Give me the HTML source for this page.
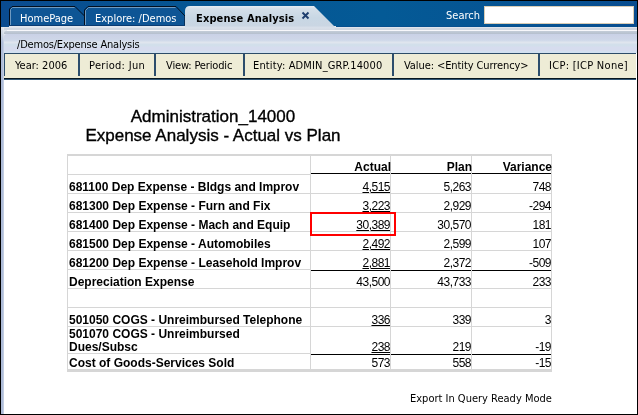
<!DOCTYPE html>
<html><head><meta charset="utf-8">
<style>
*{margin:0;padding:0;box-sizing:border-box}
html,body{width:638px;height:415px;overflow:hidden;background:#fff}
body{position:relative;font-family:"DejaVu Sans Condensed","Liberation Sans",sans-serif}
.a{position:absolute}
.ui{font-family:"DejaVu Sans Condensed","Liberation Sans",sans-serif;font-size:11px;line-height:13px;white-space:nowrap}
#hdr{left:1px;top:1px;width:636px;height:26px;background:linear-gradient(90deg,#0a4b90 0%,#065593 28%,#045a96 60%,#065493 80%,#084c8f 100%)}
#tabs{left:0;top:0}
.tabt{color:#fff}
#bar{left:1px;top:26px;width:636px;height:27px;background:#e2e7ee}
#pov{left:4px;top:53px;width:632px;height:27px;background:#eeecd6;border-top:1px solid #2c4c68;border-bottom:2px solid #08161e}
.sep{position:absolute;top:0;width:2px;height:22px;background:#2c4d6c}
.pt{position:absolute;top:5px;color:#000}
#lstrip{left:1px;top:27px;width:3px;height:387px;background:linear-gradient(90deg,rgba(255,255,255,0) 0,rgba(255,255,255,0) 2px,rgba(255,255,255,.25) 2px),linear-gradient(#e0e5ec 0,#d0d8e4 6px,#aebcd8 16px,#aebcd8 100%)}
.frame{position:absolute;background:#000}
.ttl{font-family:"Liberation Sans",Arial,sans-serif;font-size:17px;line-height:19px;-webkit-text-stroke:0.35px #000;color:#000;white-space:nowrap;text-align:center}
table{border-collapse:collapse;font-family:"Liberation Sans",Arial,sans-serif;font-size:12px;table-layout:fixed}
.lab{left:69px;font:bold 12px/13px "Liberation Sans",Arial,sans-serif;color:#000;white-space:nowrap}
.num{width:78px;text-align:right;letter-spacing:-0.5px;font:12px/13px "Liberation Sans",Arial,sans-serif;color:#000;white-space:nowrap}
.num.u{text-decoration:underline;text-decoration-thickness:1px;text-underline-offset:1px}
.hd{width:79px;text-align:right;font:bold 12px/13px "Liberation Sans",Arial,sans-serif;color:#000;white-space:nowrap}
</style></head><body>
<div class="a" id="hdr"></div>
<div class="a" id="bar"></div>
<div class="a" style="left:1px;top:26px;width:8px;height:1px;background:#0a4a8d"></div>
<div class="a" style="left:336px;top:26px;width:301px;height:1px;background:#07508f"></div>
<div class="a" style="left:1px;top:27px;width:636px;height:1px;background:#dfe4ec"></div>
<div class="a" style="left:1px;top:28px;width:636px;height:2px;background:#d0d7e1"></div>
<div class="a" style="left:7px;top:30px;width:630px;height:1px;background:#f7f7fb"></div>
<div class="a" style="left:4px;top:31px;width:633px;height:3px;background:linear-gradient(#c3ccd8,#b5bfcd);border-top-left-radius:2px"></div>
<div class="a" style="left:4px;top:34px;width:633px;height:17px;background:linear-gradient(#c9d1e6 0px,#cdd4e7 3px,#cdd6e8 5px,#d2dbea 7px,#dfe5ee 8px,#dfe5ee 9px,#d3dfeb 10px,#d2dfeb 12px,#d6dcee 13px,#d6dcee 17px);border-top-left-radius:3px"></div>
<div class="a" style="left:4px;top:51px;width:633px;height:2px;background:#d2e0f0"></div>
<svg class="a" id="tabs" width="638" height="30" viewBox="0 0 638 30">
  <path d="M9.5 26 V9 L12 6.5 H75 L84.5 16 V26" fill="#0e5595" stroke="#020e1e" stroke-width="1"/>
  <path d="M10.5 25 V9.5 L12.5 7.5 H74.5" fill="none" stroke="#6f9ac0" stroke-width="1"/>
  <path d="M84.5 26 V10 L88 6.5 H176 L185 16 V26" fill="#0e5595" stroke="#020e1e" stroke-width="1"/>
  <path d="M85.5 25 V10.5 L88.5 7.5 H175.5" fill="none" stroke="#6f9ac0" stroke-width="1"/>
  <rect x="9" y="25" width="176" height="1" fill="#0a3b72"/>
  <defs><linearGradient id="ag" x1="0" y1="0" x2="0" y2="1"><stop offset="0" stop-color="#e6ecf2"/><stop offset="0.12" stop-color="#d4dfe9"/><stop offset="0.5" stop-color="#c8d7e4"/><stop offset="0.82" stop-color="#cad6e3"/><stop offset="0.9" stop-color="#d8dfe9"/><stop offset="1" stop-color="#d4dae4"/></linearGradient></defs>
  <path d="M185 30 V11 Q185 6 190 6 H314 L335 27 V30 Z" fill="url(#ag)"/>
  <path d="M302.5 12.5 L308.5 18.5 M308.5 12.5 L302.5 18.5" stroke="#1e3e6e" stroke-width="1.9" fill="none"/>
</svg>
<div class="a ui tabt" style="left:20px;top:12px">HomePage</div>
<div class="a ui tabt" style="left:95px;top:12px">Explore: /Demos</div>
<div class="a ui" style="left:196px;top:12px;font-weight:bold;color:#000;letter-spacing:0.12px">Expense Analysis</div>
<div class="a ui tabt" style="left:446px;top:9px">Search</div>
<div class="a" style="left:484px;top:6px;width:150px;height:18px;background:#fff;border:1px solid #d9ccb4"></div>
<div class="a" style="left:7px;top:30px;width:630px;height:1px;background:#f7f7fb"></div>
<div class="a ui" style="left:17px;top:38px;color:#000;letter-spacing:-0.2px">/Demos/Expense Analysis</div>

<div class="a" id="pov">
  <div class="sep" style="left:0;width:1px"></div>
  <div class="pt ui" style="left:11px">Year: 2006</div>
  <div class="sep" style="left:74px"></div>
  <div class="pt ui" style="left:85px;letter-spacing:0.3px">Period: Jun</div>
  <div class="sep" style="left:150px"></div>
  <div class="pt ui" style="left:162px;letter-spacing:-0.15px">View: Periodic</div>
  <div class="sep" style="left:239px"></div>
  <div class="pt ui" style="left:249px;letter-spacing:0.14px">Entity: ADMIN_GRP.14000</div>
  <div class="sep" style="left:388px"></div>
  <div class="pt ui" style="left:400px;letter-spacing:-0.09px">Value: &lt;Entity Currency&gt;</div>
  <div class="sep" style="left:534px"></div>
  <div class="pt ui" style="left:545px;letter-spacing:0.28px">ICP: [ICP None]</div>
</div>
<div class="a" id="lstrip"></div>
<div class="a" style="left:4px;top:79px;width:632px;height:1px;background:#2f5474"></div>

<div class="a ttl" style="left:63px;top:107px;width:300px">Administration_14000<br>Expense Analysis - Actual vs Plan</div>

<!--TABLE-->
<div class="a" style="left:67px;top:154px;width:485px;height:2px;background:#d6d6d6"></div>
<div class="a" style="left:67px;top:369px;width:485px;height:3px;background:#d6d6d6"></div>
<div class="a" style="left:67px;top:154px;width:1px;height:218px;background:#d6d6d6"></div>
<div class="a" style="left:551px;top:154px;width:1px;height:218px;background:#d6d6d6"></div>
<div class="a" style="left:310px;top:156px;width:1px;height:213px;background:#d6d6d6"></div>
<div class="a" style="left:390px;top:156px;width:1px;height:213px;background:#d6d6d6"></div>
<div class="a" style="left:471px;top:156px;width:1px;height:213px;background:#d6d6d6"></div>
<div class="a" style="left:68px;top:174px;width:242px;height:1px;background:#d6d6d6"></div>
<div class="a" style="left:311px;top:173px;width:79px;height:1px;background:#000"></div>
<div class="a" style="left:391px;top:173px;width:80px;height:1px;background:#000"></div>
<div class="a" style="left:472px;top:173px;width:79px;height:1px;background:#000"></div>
<div class="a" style="left:68px;top:193px;width:483px;height:1px;background:#d6d6d6"></div>
<div class="a" style="left:68px;top:212px;width:483px;height:1px;background:#d6d6d6"></div>
<div class="a" style="left:68px;top:231px;width:483px;height:1px;background:#d6d6d6"></div>
<div class="a" style="left:68px;top:250px;width:483px;height:1px;background:#d6d6d6"></div>
<div class="a" style="left:68px;top:288px;width:483px;height:1px;background:#d6d6d6"></div>
<div class="a" style="left:68px;top:307px;width:483px;height:1px;background:#d6d6d6"></div>
<div class="a" style="left:68px;top:326px;width:483px;height:1px;background:#d6d6d6"></div>
<div class="a" style="left:68px;top:269px;width:242px;height:1px;background:#d6d6d6"></div>
<div class="a" style="left:311px;top:270px;width:79px;height:1px;background:#000"></div>
<div class="a" style="left:391px;top:270px;width:80px;height:1px;background:#000"></div>
<div class="a" style="left:472px;top:270px;width:79px;height:1px;background:#000"></div>
<div class="a" style="left:68px;top:353px;width:242px;height:1px;background:#d6d6d6"></div>
<div class="a" style="left:311px;top:354px;width:79px;height:1px;background:#000"></div>
<div class="a" style="left:391px;top:354px;width:80px;height:1px;background:#000"></div>
<div class="a" style="left:472px;top:354px;width:79px;height:1px;background:#000"></div>
<div class="a lab" style="top:181px">681100 Dep Expense - Bldgs and Improv</div>
<div class="a num u" style="top:181px;left:312px">4,515</div>
<div class="a num" style="top:181px;left:393px">5,263</div>
<div class="a num" style="top:181px;left:473px">748</div>
<div class="a lab" style="top:200px">681300 Dep Expense - Furn and Fix</div>
<div class="a num u" style="top:200px;left:312px">3,223</div>
<div class="a num" style="top:200px;left:393px">2,929</div>
<div class="a num" style="top:200px;left:473px">-294</div>
<div class="a lab" style="top:219px">681400 Dep Expense - Mach and Equip</div>
<div class="a num u" style="top:219px;left:312px">30,389</div>
<div class="a num" style="top:219px;left:393px">30,570</div>
<div class="a num" style="top:219px;left:473px">181</div>
<div class="a lab" style="top:238px">681500 Dep Expense - Automobiles</div>
<div class="a num u" style="top:238px;left:312px">2,492</div>
<div class="a num" style="top:238px;left:393px">2,599</div>
<div class="a num" style="top:238px;left:473px">107</div>
<div class="a lab" style="top:257px">681200 Dep Expense - Leasehold Improv</div>
<div class="a num u" style="top:257px;left:312px">2,881</div>
<div class="a num" style="top:257px;left:393px">2,372</div>
<div class="a num" style="top:257px;left:473px">-509</div>
<div class="a lab" style="top:276px">Depreciation Expense</div>
<div class="a num" style="top:276px;left:312px">43,500</div>
<div class="a num" style="top:276px;left:393px">43,733</div>
<div class="a num" style="top:276px;left:473px">233</div>
<div class="a lab" style="top:314px">501050 COGS - Unreimbursed Telephone</div>
<div class="a num u" style="top:314px;left:312px">336</div>
<div class="a num" style="top:314px;left:393px">339</div>
<div class="a num" style="top:314px;left:473px">3</div>
<div class="a lab" style="top:328px">501070 COGS - Unreimbursed<br>Dues/Subsc</div>
<div class="a num u" style="top:341px;left:312px">238</div>
<div class="a num" style="top:341px;left:393px">219</div>
<div class="a num" style="top:341px;left:473px">-19</div>
<div class="a lab" style="top:357px">Cost of Goods-Services Sold</div>
<div class="a num" style="top:357px;left:312px">573</div>
<div class="a num" style="top:357px;left:393px">558</div>
<div class="a num" style="top:357px;left:473px">-15</div>
<div class="a hd" style="top:161px;left:312px">Actual</div>
<div class="a hd" style="top:161px;left:393px">Plan</div>
<div class="a hd" style="top:161px;left:473px">Variance</div>
<div class="a" style="left:310px;top:212px;width:86px;height:24px;border:2px solid #ff0000"></div>
<!--/TABLE-->
<div class="a ui" style="left:410px;top:392px;color:#000">Export In Query Ready Mode</div>

<!-- outer black frame -->
<div class="frame" style="left:0;top:0;width:638px;height:1px"></div>
<div class="frame" style="left:0;top:0;width:1px;height:415px"></div>
<div class="frame" style="left:637px;top:0;width:1px;height:415px"></div>
<div class="frame" style="left:0;top:414px;width:638px;height:1px"></div>
</body></html>
